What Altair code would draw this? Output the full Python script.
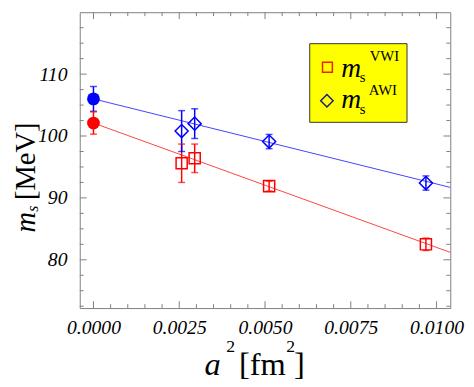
import altair as alt
import pandas as pd

# ---- data ----
series_names = ["VWI", "AWI"]
series_colors = ["#ff0000", "#0000ff"]

# continuum (a^2 = 0) extrapolations
cont_series = ["VWI", "AWI"]
cont_x = [0.0, 0.0]
cont_y = [102.1, 106.0]
cont_err = [1.8, 2.0]

# lattice points
vwi_x = [0.00257, 0.00295, 0.00512, 0.00969]
vwi_y = [95.6, 96.4, 91.9, 82.5]
vwi_err = [3.1, 2.3, 0.8, 1.0]

awi_x = [0.00257, 0.00295, 0.00512, 0.00969]
awi_y = [100.8, 102.0, 99.1, 92.4]
awi_err = [3.3, 2.4, 1.15, 1.15]

# linear fits
fit_x = [0.0, 0.0104]
fit_vwi = [102.1, 81.2]
fit_awi = [106.0, 91.7]

# axis ticks
x_labels = [0.0, 0.0025, 0.005, 0.0075, 0.01]
x_minor = [0.0005, 0.001, 0.0015, 0.002, 0.003, 0.0035, 0.004, 0.0045,
           0.0055, 0.006, 0.0065, 0.007, 0.008, 0.0085, 0.009, 0.0095]
y_labels = [80, 90, 100, 110]
y_minor = [72.5, 75, 77.5, 82.5, 85, 87.5, 92.5, 95, 97.5,
           102.5, 105, 107.5, 112.5, 115, 117.5]

# ---- layout ----
W, H = 377, 301
FONT = "Liberation Serif"
FRAME = "#808080"

xscale = alt.Scale(domain=[-0.0004, 0.0104], nice=False, zero=False)
yscale = alt.Scale(domain=[72.2, 120], nice=False, zero=False)
label_style = dict(labelFont=FONT, labelFontStyle="italic", labelFontSize=20,
                   labelColor="black", labelOverlap=False, labelBound=False,
                   domain=False, ticks=False, grid=False, title=None)
xaxis = alt.Axis(values=x_labels, format=".4f", labelPadding=10, labelFlush=False, **label_style)
yaxis = alt.Axis(values=y_labels, format="d", labelPadding=13, **label_style)


def X(f):
    return alt.X(f"{f}:Q", scale=xscale, axis=xaxis)


def Y(f):
    return alt.Y(f"{f}:Q", scale=yscale, axis=yaxis)


color = alt.Color("series:N", scale=alt.Scale(domain=series_names, range=series_colors), legend=None)

cont_df = pd.DataFrame({"series": cont_series, "x": cont_x, "y": cont_y, "err": cont_err})
vwi_df = pd.DataFrame({"series": "VWI", "x": vwi_x, "y": vwi_y, "err": vwi_err})
awi_df = pd.DataFrame({"series": "AWI", "x": awi_x, "y": awi_y, "err": awi_err})
all_df = pd.concat([cont_df, vwi_df, awi_df], ignore_index=True)
all_df["lo"] = all_df["y"] - all_df["err"]
all_df["hi"] = all_df["y"] + all_df["err"]

fit_df = pd.concat([
    pd.DataFrame({"series": "VWI", "x": fit_x, "y": fit_vwi}),
    pd.DataFrame({"series": "AWI", "x": fit_x, "y": fit_awi}),
], ignore_index=True)

layers = []

# fit lines
layers.append(alt.Chart(fit_df).mark_line(strokeWidth=1, opacity=0.75, clip=True).encode(
    x=X("x"), y=Y("y"), color=color, detail="series:N"))

# error bars
layers.append(alt.Chart(all_df).mark_rule(strokeWidth=1.5).encode(
    x=X("x"), y=Y("lo"), y2="hi", color=color))
layers.append(alt.Chart(all_df).mark_tick(orient="horizontal", size=7, thickness=1.5).encode(
    x=X("x"), y=Y("lo"), color=color))
layers.append(alt.Chart(all_df).mark_tick(orient="horizontal", size=7, thickness=1.5).encode(
    x=X("x"), y=Y("hi"), color=color))

# markers
layers.append(alt.Chart(cont_df).mark_point(shape="circle", filled=True, size=169, opacity=1).encode(
    x=X("x"), y=Y("y"), color=color))
layers.append(alt.Chart(vwi_df).mark_point(shape="square", filled=False, size=128, strokeWidth=1.5,
                                           opacity=1, color="#ff0000").encode(x=X("x"), y=Y("y")))
layers.append(alt.Chart(awi_df).mark_point(shape="diamond", filled=False, size=177, strokeWidth=1.5,
                                           opacity=1, color="#0000ff").encode(x=X("x"), y=Y("y")))

# inward ticks on all four sides
xmaj = pd.DataFrame({"v": x_labels})
xmin = pd.DataFrame({"v": x_minor})
ymaj = pd.DataFrame({"v": y_labels})
ymin = pd.DataFrame({"v": y_minor})
for df, ln in ((xmaj, 7), (xmin, 4)):
    layers.append(alt.Chart(df).mark_rule(color=FRAME, strokeWidth=1).encode(
        x=X("v"), y=alt.value(H), y2=alt.value(H - ln)))
    layers.append(alt.Chart(df).mark_rule(color=FRAME, strokeWidth=1).encode(
        x=X("v"), y=alt.value(0), y2=alt.value(ln)))
for df, ln in ((ymaj, 7), (ymin, 4)):
    layers.append(alt.Chart(df).mark_rule(color=FRAME, strokeWidth=1).encode(
        y=Y("v"), x=alt.value(0), x2=alt.value(ln)))
    layers.append(alt.Chart(df).mark_rule(color=FRAME, strokeWidth=1).encode(
        y=Y("v"), x=alt.value(W), x2=alt.value(W - ln)))

dummy = pd.DataFrame({"k": [0]})


def txt(s, x, y, size, italic=False, angle=0, color="black"):
    return alt.Chart(dummy).mark_text(
        text=s, font=FONT, fontSize=size, fontStyle="italic" if italic else "normal",
        align="left", baseline="alphabetic", angle=angle, color=color,
    ).encode(x=alt.value(x), y=alt.value(y))


# legend box
layers.append(alt.Chart(dummy).mark_rect(fill="#ffff00", stroke="#333333", strokeWidth=1).encode(
    x=alt.value(234), x2=alt.value(333), y=alt.value(32), y2=alt.value(112)))
layers.append(alt.Chart(dummy).mark_point(shape="square", filled=False, size=100, strokeWidth=1.5,
                                          opacity=1, color="#ee2200").encode(
    x=alt.value(252), y=alt.value(56)))
layers.append(alt.Chart(dummy).mark_point(shape="diamond", filled=False, size=160, strokeWidth=1.5,
                                          opacity=1, color="#1a1a8c").encode(
    x=alt.value(251.5), y=alt.value(90)))
layers.append(txt("m", 266, 66, 28, italic=True))
layers.append(txt("s", 285, 71, 15))
layers.append(txt("VWI", 295, 50, 15))
layers.append(txt("m", 266, 97, 28, italic=True))
layers.append(txt("s", 285, 103.5, 15))
layers.append(txt("AWI", 294, 84, 15))

# y title: m_s [MeV]
layers.append(txt("m", -46, 224, 29, italic=True, angle=270))
layers.append(txt("s", -42, 203, 16, italic=True, angle=270))
layers.append(txt("[MeV]", -46, 191, 29, angle=270))

# x title: a^2 [fm^2]
layers.append(txt("a", 127, 369, 33, italic=True))
layers.append(txt("2", 149, 346, 18))
layers.append(txt("[fm", 162, 369, 33))
layers.append(txt("2", 210, 346, 18))
layers.append(txt("]", 218, 369, 33))

chart = alt.layer(*layers).properties(
    width=W, height=H,
    autosize=alt.AutoSizeParams(type="none"),
    padding={"left": 73, "top": 1, "right": 16, "bottom": 77},
    background="white",
).configure_view(
    stroke=FRAME, strokeWidth=1,
)

chart.save("out.html", embed_options={"renderer": "svg", "actions": False})
